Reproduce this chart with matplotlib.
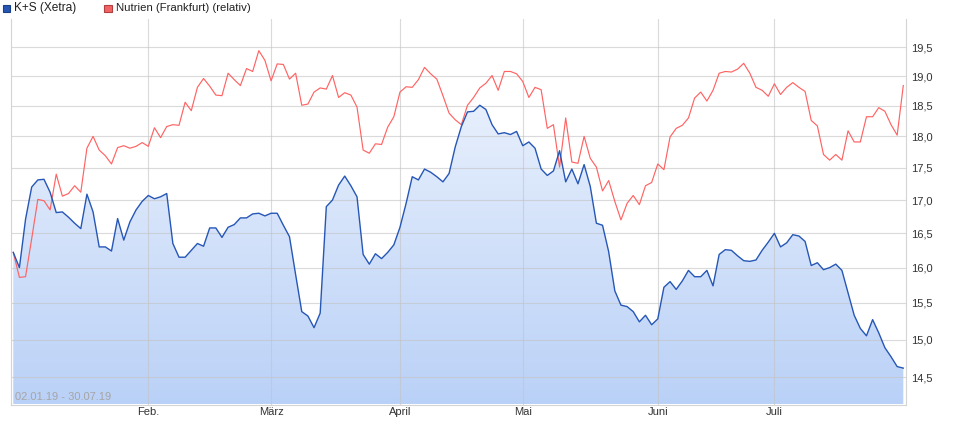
import numpy as np
import pandas as pd
import matplotlib
matplotlib.use("Agg")
import matplotlib.pyplot as plt
from matplotlib.ticker import FixedLocator, NullLocator, FuncFormatter
from matplotlib.patches import Rectangle
from matplotlib.colors import LinearSegmentedColormap

plt.rcParams['font.family'] = ['Liberation Sans', 'DejaVu Sans']

# ---------------- data ----------------
holidays = ['2019-04-19', '2019-04-22', '2019-05-01', '2019-06-10']
all_days = pd.bdate_range('2019-01-02', '2019-07-30')
dates = all_days[~all_days.isin(pd.to_datetime(holidays))]

ks_xetra = [
    16.22, 16.00, 16.71, 17.20, 17.31, 17.32, 17.12, 16.81, 16.82, 16.74,
    16.65, 16.57, 17.09, 16.82, 16.30, 16.30, 16.24, 16.72, 16.40, 16.67,
    16.85, 16.98, 17.07, 17.02, 17.05, 17.10, 16.35, 16.15, 16.15, 16.25,
    16.35, 16.31, 16.58, 16.58, 16.44, 16.59, 16.63, 16.73, 16.73, 16.79,
    16.80, 16.76, 16.80, 16.80, 16.62, 16.45, 15.90, 15.38, 15.32, 15.16,
    15.36, 16.90, 17.00, 17.23, 17.37, 17.22, 17.05, 16.19, 16.05, 16.20,
    16.13, 16.22, 16.33, 16.59, 16.95, 17.36, 17.31, 17.48, 17.43, 17.36,
    17.28, 17.41, 17.83, 18.16, 18.40, 18.41, 18.51, 18.44, 18.19, 18.04,
    18.06, 18.03, 18.08, 17.85, 17.91, 17.81, 17.48, 17.38, 17.45, 17.77,
    17.28, 17.48, 17.25, 17.55, 17.21, 16.65, 16.62, 16.23, 15.67, 15.47,
    15.45, 15.38, 15.24, 15.33, 15.20, 15.28, 15.72, 15.80, 15.69, 15.81,
    15.96, 15.87, 15.87, 15.96, 15.74, 16.19, 16.26, 16.25, 16.17, 16.10,
    16.09, 16.11, 16.25, 16.37, 16.50, 16.30, 16.36, 16.48, 16.46, 16.38,
    16.03, 16.07, 15.97, 16.00, 16.05, 15.96, 15.64, 15.33, 15.15, 15.05,
    15.27, 15.09, 14.89, 14.77, 14.64, 14.62,
]

nutrien_rel = [
    16.22, 15.86, 15.87, 16.42, 17.01, 16.99, 16.85, 17.40, 17.06, 17.10,
    17.22, 17.12, 17.81, 18.00, 17.78, 17.69, 17.56, 17.82, 17.85, 17.81,
    17.84, 17.90, 17.84, 18.14, 17.98, 18.16, 18.19, 18.18, 18.56, 18.42,
    18.81, 18.96, 18.83, 18.68, 18.67, 19.05, 18.94, 18.84, 19.13, 19.08,
    19.44, 19.27, 18.92, 19.21, 19.20, 18.95, 19.05, 18.51, 18.53, 18.73,
    18.80, 18.78, 19.01, 18.64, 18.72, 18.68, 18.48, 17.78, 17.73, 17.88,
    17.87, 18.15, 18.32, 18.73, 18.82, 18.81, 18.94, 19.15, 19.04, 18.95,
    18.67, 18.38, 18.27, 18.19, 18.51, 18.64, 18.80, 18.88, 19.01, 18.76,
    19.08, 19.08, 19.04, 18.91, 18.64, 18.81, 18.77, 18.13, 18.19, 17.51,
    18.30, 17.59, 17.57, 18.00, 17.65, 17.51, 17.14, 17.30, 16.98, 16.70,
    16.95, 17.07, 16.93, 17.22, 17.27, 17.56, 17.47, 17.99, 18.13, 18.18,
    18.30, 18.63, 18.73, 18.58, 18.76, 19.05, 19.08, 19.07, 19.12, 19.22,
    19.05, 18.81, 18.76, 18.66, 18.87, 18.69, 18.81, 18.89, 18.81, 18.74,
    18.26, 18.17, 17.71, 17.62, 17.71, 17.62, 18.09, 17.91, 17.91, 18.32,
    18.32, 18.47, 18.41, 18.19, 18.02, 18.84,
]

month_labels = ['Feb.', 'März', 'April', 'Mai', 'Juni', 'Juli']
month_numbers = [2, 3, 4, 5, 6, 7]
y_ticks = [14.5, 15.0, 15.5, 16.0, 16.5, 17.0, 17.5, 18.0, 18.5, 19.0, 19.5]
series_names = ['K+S (Xetra)', 'Nutrien (Frankfurt) (relativ)']
range_label = '02.01.19 - 30.07.19'

# ---------------- figure ----------------
W, H = 959, 421
fig = plt.figure(figsize=(W / 100, H / 100), dpi=100)
ax_l, ax_r, ax_t, ax_b = 11, 906, 19, 404.5
ax = fig.add_axes([ax_l / W, (H - ax_b) / H, (ax_r - ax_l) / W, (ax_b - ax_t) / H])

x = np.arange(len(dates))
month_pos = [int(np.argmax(dates.month == m)) for m in month_numbers]

YMIN, YMAX = 14.15, 20.0
ax.set_yscale('log')

blue = '#2657b6'
red = '#ff6363'

poly = ax.fill_between(x, ks_xetra, YMIN, facecolor='none', edgecolor='none', zorder=1)
grad = np.linspace(0, 1, 256).reshape(-1, 1)
cmap = LinearSegmentedColormap.from_list('g', ['#bad1f7', '#f4f8fe'])
im = ax.imshow(grad, extent=[0, 1, 0, 1], transform=ax.transAxes, origin='lower',
               cmap=cmap, aspect='auto', zorder=1, interpolation='bilinear')
im.set_clip_path(poly.get_paths()[0], ax.transData)

ax.plot(x, nutrien_rel, color=red, lw=0.85, zorder=3)
ax.plot(x, ks_xetra, color=blue, lw=1.0, zorder=4)

ax.set_xlim(-0.37, len(x) - 1 + 0.44)
ax.set_ylim(YMIN, YMAX)

ax.yaxis.tick_right()
ax.yaxis.set_major_locator(FixedLocator(y_ticks))
ax.yaxis.set_minor_locator(NullLocator())
ax.yaxis.set_major_formatter(FuncFormatter(lambda v, _: f'{v:.1f}'.replace('.', ',')))
ax.xaxis.set_major_locator(FixedLocator(month_pos))
ax.xaxis.set_minor_locator(NullLocator())
ax.set_xticklabels(month_labels)
ax.tick_params(axis='y', length=0, pad=3.5, labelsize=8, labelcolor='#333333')
ax.tick_params(axis='x', length=0, pad=2, labelsize=8, labelcolor='#333333')

ax.set_axisbelow('line')
ax.grid(True, color='#c4c4c4', alpha=0.62, lw=0.8)
for s in ['left', 'right', 'bottom']:
    ax.spines[s].set_color('#d4d4d4')
    ax.spines[s].set_linewidth(0.8)
ax.spines['top'].set_visible(False)

ax.text(4 / (ax_r - ax_l), (ax_b - 397) / (ax_b - ax_t), range_label,
        transform=ax.transAxes, fontsize=8, color='#a5a5a5', va='center', ha='left', zorder=6)

# legend
def leg_item(x0, face, edge, label, size):
    fig.add_artist(Rectangle((x0 / W, 1 - 12 / H), 7.5 / W, 7.5 / H,
                             transform=fig.transFigure, facecolor=face, edgecolor=edge, lw=0.8))
    fig.text((x0 + 11.5) / W, 1 - 8.3 / H, label, fontsize=size, color='#222222',
             va='center', ha='left')

leg_item(2.7, '#2556b4', '#1a3f85', series_names[0], 8.6)
leg_item(104, '#f26464', '#b04040', series_names[1], 8.2)

fig.savefig('out.png', dpi=100)
